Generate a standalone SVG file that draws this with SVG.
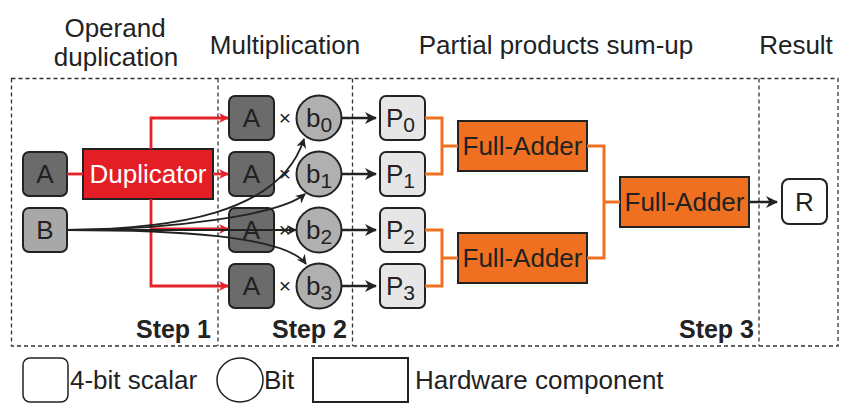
<svg xmlns="http://www.w3.org/2000/svg" width="851" height="415" viewBox="0 0 851 415">
<defs>
<style>
text{font-family:"Liberation Sans",Arial,sans-serif;fill:#222}
.t{font-size:26px;text-anchor:middle}
.step{font-size:25px;font-weight:bold;text-anchor:end}
.dash{fill:none;stroke:#333;stroke-width:1.3;stroke-dasharray:4,3}
.sc{stroke:#222;stroke-width:2}
.a{fill:#6b6b6b}
.b{fill:#a8a8a8}
.bit{fill:#b0b0b0}
.p{fill:#e6e6e6}
.fa{fill:#f07021}
.red{fill:none;stroke:#e3222a;stroke-width:2.8}
.org{fill:none;stroke:#f07021;stroke-width:3}
.blk{fill:none;stroke:#222;stroke-width:1.8}
.blk2{fill:none;stroke:#222;stroke-width:2.5}
</style>
<marker id="ar" markerWidth="10" markerHeight="10" refX="9" refY="5" orient="auto" markerUnits="userSpaceOnUse">
<path d="M0,0 L10,5 L0,10 L3,5 z" fill="#e3222a"/>
</marker>
<marker id="ab" markerWidth="10" markerHeight="10" refX="9" refY="5" orient="auto" markerUnits="userSpaceOnUse">
<path d="M0,0 L10,5 L0,10 L3,5 z" fill="#222"/>
</marker>
<marker id="ab2" markerWidth="12" markerHeight="12" refX="11" refY="6" orient="auto" markerUnits="userSpaceOnUse">
<path d="M0,0 L12,6 L0,12 L3.5,6 z" fill="#222"/>
</marker>
</defs>
<rect width="851" height="415" fill="#fff"/>

<g id="titles">
<text class="t" x="115" y="37">Operand</text>
<text class="t" x="116" y="66">duplication</text>
<text class="t" x="285" y="54">Multiplication</text>
<text class="t" x="556" y="54">Partial products sum-up</text>
<text class="t" x="796" y="54">Result</text>
</g>

<g id="frame">
<rect class="dash" x="11.5" y="78.5" width="826.5" height="267.5"/>
<line class="dash" x1="218" y1="78.5" x2="218" y2="346"/>
<line class="dash" x1="352.5" y1="78.5" x2="352.5" y2="346"/>
<line class="dash" x1="759" y1="78.5" x2="759" y2="346"/>
<text class="step" x="211" y="338">Step 1</text>
<text class="step" x="347" y="338">Step 2</text>
<text class="step" x="754" y="338">Step 3</text>
</g>

<g id="nodeA"><rect class="a sc" x="23" y="152" width="44" height="44" rx="6"/><text class="t" x="45" y="183">A</text></g>
<g id="nodeB"><rect class="b sc" x="23" y="208" width="44" height="44" rx="6"/><text class="t" x="45" y="239">B</text></g>
<g id="duplicator"><rect class="sc" fill="#e31e24" x="83" y="149" width="130" height="50"/><text class="t" x="148" y="183" style="fill:#fff">Duplicator</text></g>

<g id="mulA0"><rect class="a sc" x="229" y="96" width="45" height="44" rx="6"/><text class="t" x="251.5" y="127">A</text></g>
<g id="mulA1"><rect class="a sc" x="229" y="152" width="45" height="44" rx="6"/><text class="t" x="251.5" y="183">A</text></g>
<g id="mulA2"><rect class="a sc" x="229" y="208" width="45" height="44" rx="6"/><text class="t" x="251.5" y="239">A</text></g>
<g id="mulA3"><rect class="a sc" x="229" y="264" width="45" height="44" rx="6"/><text class="t" x="251.5" y="295">A</text></g>

<g id="times">
<text class="t" x="285" y="125" style="font-size:21px">×</text>
<text class="t" x="285" y="181" style="font-size:21px">×</text>
<text class="t" x="285" y="237" style="font-size:21px">×</text>
<text class="t" x="285" y="293" style="font-size:21px">×</text>
</g>

<g id="b0"><circle class="bit sc" cx="319" cy="118" r="22.5"/><text x="306" y="127" style="font-size:26px">b<tspan dy="5" style="font-size:21px">0</tspan></text></g>
<g id="b1"><circle class="bit sc" cx="319" cy="174" r="22.5"/><text x="306" y="183" style="font-size:26px">b<tspan dy="5" style="font-size:21px">1</tspan></text></g>
<g id="b2"><circle class="bit sc" cx="319" cy="230" r="22.5"/><text x="306" y="239" style="font-size:26px">b<tspan dy="5" style="font-size:21px">2</tspan></text></g>
<g id="b3"><circle class="bit sc" cx="319" cy="286" r="22.5"/><text x="306" y="295" style="font-size:26px">b<tspan dy="5" style="font-size:21px">3</tspan></text></g>

<g id="P0"><rect class="p sc" x="380" y="96" width="45" height="44" rx="6"/><text x="386" y="127" style="font-size:26px">P<tspan dy="5" style="font-size:21px">0</tspan></text></g>
<g id="P1"><rect class="p sc" x="380" y="152" width="45" height="44" rx="6"/><text x="386" y="183" style="font-size:26px">P<tspan dy="5" style="font-size:21px">1</tspan></text></g>
<g id="P2"><rect class="p sc" x="380" y="208" width="45" height="44" rx="6"/><text x="386" y="239" style="font-size:26px">P<tspan dy="5" style="font-size:21px">2</tspan></text></g>
<g id="P3"><rect class="p sc" x="380" y="264" width="45" height="44" rx="6"/><text x="386" y="295" style="font-size:26px">P<tspan dy="5" style="font-size:21px">3</tspan></text></g>

<g id="fa1"><rect class="fa sc" x="458" y="121" width="129" height="50"/><text class="t" x="522.5" y="155">Full-Adder</text></g>
<g id="fa2"><rect class="fa sc" x="458" y="233" width="129" height="50"/><text class="t" x="522.5" y="267">Full-Adder</text></g>
<g id="fa3"><rect class="fa sc" x="620" y="177" width="129" height="50"/><text class="t" x="684.5" y="211">Full-Adder</text></g>
<g id="R"><rect class="sc" fill="#fff" x="782" y="179" width="45" height="45" rx="7"/><text class="t" x="804.5" y="211">R</text></g>

<g id="connectors">
<line class="red" x1="67" y1="174" x2="83" y2="174"/>
<path class="red" d="M151,149 V118 H228" marker-end="url(#ar)"/>
<line class="red" x1="213" y1="174" x2="228" y2="174" marker-end="url(#ar)"/>
<path class="red" d="M151,199 V286 H228" marker-end="url(#ar)"/>
<line class="red" x1="151" y1="229" x2="228" y2="229" marker-end="url(#ar)"/>
<path class="blk" d="M67,230 C170,229 280,215 304,139" marker-end="url(#ab)"/>
<path class="blk" d="M67,230 C170,230 280,215 305,194" marker-end="url(#ab)"/>
<path class="blk" d="M67,230 L296,230" marker-end="url(#ab)"/>
<path class="blk" d="M67,230 C170,230 285,235 306,264" marker-end="url(#ab)"/>
<line class="blk2" x1="342" y1="118" x2="376" y2="118" marker-end="url(#ab2)"/>
<line class="blk2" x1="342" y1="174" x2="376" y2="174" marker-end="url(#ab2)"/>
<line class="blk2" x1="342" y1="230" x2="376" y2="230" marker-end="url(#ab2)"/>
<line class="blk2" x1="342" y1="286" x2="376" y2="286" marker-end="url(#ab2)"/>
<path class="org" d="M425,118 H442 V174 H425 M442,146 H458"/>
<path class="org" d="M425,230 H442 V286 H425 M442,258 H458"/>
<path class="org" d="M587,146 H604 V258 H587 M604,202 H620"/>
<line class="blk2" x1="749" y1="202" x2="777" y2="202" marker-end="url(#ab2)"/>
</g>

<g id="legend">
<rect fill="#fff" stroke="#222" stroke-width="1.5" x="23" y="358" width="45" height="44" rx="7"/>
<text x="70" y="389" style="font-size:26px">4-bit scalar</text>
<ellipse fill="#fff" stroke="#222" stroke-width="1.5" cx="240" cy="380" rx="23" ry="22"/>
<text x="264" y="389" style="font-size:26px">Bit</text>
<rect fill="#fff" stroke="#222" stroke-width="2" x="313" y="358" width="95" height="44"/>
<text x="415" y="389" style="font-size:26px">Hardware component</text>
</g>
</svg>
